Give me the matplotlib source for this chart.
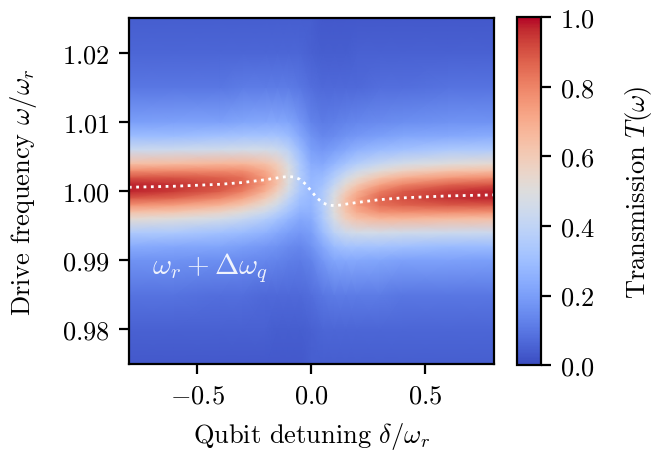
import numpy as np
import matplotlib
matplotlib.use("Agg")
import matplotlib.pyplot as plt

plt.rcParams['font.family'] = 'serif'
plt.rcParams['font.serif'] = ['cmr10']
plt.rcParams['mathtext.fontset'] = 'cm'
plt.rcParams['axes.formatter.use_mathtext'] = True
plt.rcParams['font.size'] = 9.5

## grid: qubit detuning (columns) and drive frequency (rows)
detuning = [-0.8, -0.6, -0.4, -0.3, -0.2, -0.15, -0.1, -0.05, 0.0,
            0.05, 0.1, 0.15, 0.2, 0.3, 0.4, 0.6, 0.8]
drive = [0.975, 0.98, 0.985, 0.99, 0.992, 0.994, 0.996, 0.997, 0.998, 0.999,
         1.0, 1.001, 1.002, 1.003, 1.004, 1.006, 1.008, 1.01, 1.015, 1.02, 1.025]

# transmission in percent, one row per drive frequency
transmission_pct = [
    [3, 3, 3, 3, 3, 3, 3, 3, 4, 4, 4, 4, 4, 4, 4, 4, 4],
    [5, 5, 5, 5, 5, 4, 4, 4, 5, 6, 6, 6, 6, 6, 6, 6, 6],
    [9, 9, 8, 8, 7, 7, 7, 7, 8, 10, 11, 11, 11, 11, 10, 10, 10],
    [17, 17, 16, 15, 14, 13, 12, 11, 13, 18, 22, 23, 23, 22, 21, 21, 20],
    [24, 23, 22, 20, 18, 17, 15, 14, 17, 23, 29, 32, 32, 32, 31, 29, 29],
    [35, 34, 31, 29, 26, 23, 20, 18, 20, 29, 39, 44, 46, 46, 45, 44, 43],
    [53, 50, 46, 42, 36, 32, 27, 23, 24, 34, 47, 58, 63, 67, 67, 65, 64],
    [64, 62, 56, 51, 44, 38, 32, 26, 26, 35, 50, 62, 70, 77, 78, 78, 77],
    [77, 74, 68, 62, 52, 45, 36, 29, 27, 36, 50, 64, 74, 84, 87, 89, 89],
    [89, 86, 79, 72, 60, 52, 41, 31, 28, 35, 49, 63, 73, 86, 91, 95, 97],
    [97, 94, 88, 81, 68, 58, 46, 34, 28, 34, 46, 58, 68, 81, 88, 94, 97],
    [97, 95, 91, 86, 73, 63, 49, 35, 28, 31, 41, 52, 60, 72, 79, 86, 89],
    [89, 89, 87, 84, 74, 64, 50, 36, 27, 29, 36, 45, 52, 62, 68, 74, 77],
    [77, 78, 78, 77, 70, 62, 50, 35, 26, 26, 32, 38, 44, 51, 56, 62, 64],
    [64, 65, 67, 67, 63, 58, 47, 34, 24, 23, 27, 32, 36, 42, 46, 50, 53],
    [43, 44, 45, 46, 46, 44, 39, 29, 20, 18, 20, 23, 26, 29, 31, 34, 35],
    [29, 29, 31, 32, 32, 32, 29, 23, 17, 14, 15, 17, 18, 20, 22, 23, 24],
    [20, 21, 21, 22, 23, 23, 22, 18, 13, 11, 12, 13, 14, 15, 16, 17, 17],
    [10, 10, 10, 11, 11, 11, 11, 10, 8, 7, 7, 7, 7, 8, 8, 9, 9],
    [6, 6, 6, 6, 6, 6, 6, 6, 5, 4, 4, 4, 5, 5, 5, 5, 5],
    [4, 4, 4, 4, 4, 4, 4, 4, 4, 3, 3, 3, 3, 3, 3, 3, 3],
]

## dressed resonance (dotted line)
line_x = [-0.8, -0.6, -0.4, -0.3, -0.2, -0.15, -0.125, -0.1, -0.075, -0.05, -0.025, 0.0,
          0.025, 0.05, 0.075, 0.1, 0.125, 0.15, 0.2, 0.3, 0.4, 0.6, 0.8]
line_y = [1.00055, 1.0007, 1.00098, 1.00124, 1.00165, 1.0019, 1.00203, 1.0021, 1.00203,
          1.0017, 1.001, 1.0, 0.999, 0.9983, 0.99797, 0.9979, 0.99797, 0.9981, 0.99835,
          0.99876, 0.99902, 0.9993, 0.99945]

T = np.array(transmission_pct) / 100.0

fig = plt.figure(figsize=(3.27, 2.28), dpi=200)
ax = fig.add_axes([0.197, 0.1996, 0.558, 0.7584])
cax = fig.add_axes([0.790, 0.197, 0.0367, 0.763])

mesh = ax.pcolormesh(detuning, drive, T, cmap='coolwarm', vmin=0, vmax=1, shading='gouraud')
ax.plot(line_x, line_y, color='white', ls=':', lw=1.0)
ax.text(-0.7, 0.9881, r'$\omega_r + \Delta\omega_q$', color='white', fontsize=10.5, alpha=0.9)
ax.set_xlim(-0.8, 0.8)
ax.set_ylim(0.975, 1.025)
ax.set_xlabel(r'Qubit detuning $\delta/\omega_r$', labelpad=4.5)
ax.set_ylabel(r'Drive frequency $\omega/\omega_r$', labelpad=8)

cb = fig.colorbar(mesh, cax=cax)
cb.set_label(r'Transmission $T(\omega)$', labelpad=10)

fig.savefig('out.png', dpi=200)
